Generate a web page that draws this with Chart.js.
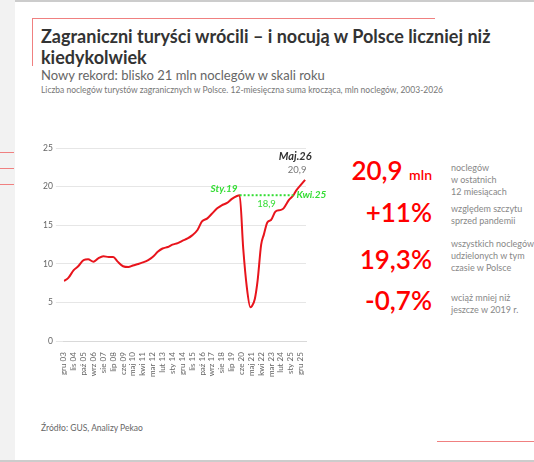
<!DOCTYPE html>
<html><head><meta charset="utf-8">
<script src="https://cdn.jsdelivr.net/npm/chart.js@4"></script>
<style>
body{margin:0;width:534px;height:462px;position:relative;background:#fff;font-family:Lato,sans-serif;overflow:hidden}
.t{position:absolute;white-space:nowrap;font-family:Lato,sans-serif}
.n{font-size:26px;color:#f00;font-weight:600;text-align:right;right:102px}
.d{left:451px;font-size:9px;line-height:12px;color:#888}
</style></head><body>
<div style="position:absolute;left:0;top:0;width:534px;height:2px;background:#ccc"></div>
<div style="position:absolute;left:0;top:0;width:15px;height:462px;background:#f2f2f2"></div>
<div style="position:absolute;left:0;top:460px;width:534px;height:2px;background:#ccc"></div>
<div style="position:absolute;left:32px;top:18px;width:403px;height:1px;background:#f08080"></div>
<div style="position:absolute;left:32px;top:18px;width:1px;height:48px;background:#f08080"></div>
<div style="position:absolute;left:437px;top:441px;width:97px;height:1px;background:#f08080"></div>
<div style="position:absolute;left:0;top:152px;width:14px;height:1px;background:#f08080"></div>
<div style="position:absolute;left:0;top:168px;width:14px;height:1px;background:#f08080"></div>
<div style="position:absolute;left:0;top:184px;width:14px;height:1px;background:#f08080"></div>
<div class="t" style="left:41px;top:26px;font-size:18px;line-height:21px;color:#333;font-weight:700">Zagraniczni turyści wrócili – i nocują w Polsce liczniej niż<br>kiedykolwiek</div>
<div class="t" style="left:41px;top:67px;font-size:13px;color:#666">Nowy rekord: blisko 21 mln noclegów w skali roku</div>
<div class="t" style="left:41px;top:85px;font-size:8.5px;color:#777">Liczba noclegów turystów zagranicznych w Polsce. 12-miesięczna suma krocząca, mln noclegów, 2003-2026</div>
<div class="t" style="left:41px;top:423px;font-size:8.5px;color:#666">Źródło: GUS, Analizy Pekao</div>

<div class="t n" style="top:154px">20,9 <span style="font-size:14px">mln</span></div>
<div class="t d" style="top:162px">noclegów<br>w ostatnich<br>12 miesiącach</div>
<div class="t n" style="top:196px">+11%</div>
<div class="t d" style="top:203px">względem szczytu<br>sprzed pandemii</div>
<div class="t n" style="top:243px">19,3%</div>
<div class="t d" style="top:238px">wszystkich noclegów<br>udzielonych w tym<br>czasie w Polsce</div>
<div class="t n" style="top:284px">-0,7%</div>
<div class="t d" style="top:292px">wciąż mniej niż<br>jeszcze w 2019 r.</div>

<div style="position:absolute;left:40px;top:140px;width:300px;height:240px"><canvas id="c"></canvas></div>
<script>
const tickLabels=["gru 03","lis 04","paź 05","wrz 06","sie 07","lip 08","cze 09","maj 10","kwi 11","mar 12","lut 13","sty 14","gru 14","lis 15","paź 16","wrz 17","sie 18","lip 19","cze 20","maj 21","kwi 22","mar 23","lut 24","sty 25","gru 25"];
const months=[0,5,11,16,22,27,33,38,44,50,55,60,66,72,77,83,88,94,99,105,110,116,121,127,132,138,143,149,154,160,165,171,176,182,187,193,196,200,204,208,210,213,216,220,223,227,231,236,242,245,251,256,259,264,269];
const values=[7.8,8.2,9.2,9.7,10.5,10.6,10.3,10.7,11.0,10.9,10.9,10.3,9.7,9.6,9.8,10.0,10.2,10.5,10.9,11.6,12.0,12.2,12.5,12.7,13.0,13.3,13.7,14.4,15.5,15.9,16.5,17.2,17.6,17.9,18.4,18.8,18.9,12.0,7.0,4.4,4.6,5.5,7.8,12.5,13.8,15.4,15.7,16.8,17.0,17.2,18.3,18.9,19.5,20.2,20.9];
const prePeak={m:196,v:18.9}, recover={m:256,v:18.9}, last={m:269,v:20.9};
const ann={id:'ann',afterDatasetsDraw(ch){const x=ch.scales.x,y=ch.scales.y,c=ch.ctx;c.save();
c.strokeStyle='#33dd33';c.lineWidth=2;c.setLineDash([2,2]);c.beginPath();
c.moveTo(x.getPixelForValue(prePeak.m),y.getPixelForValue(prePeak.v));c.lineTo(x.getPixelForValue(recover.m),y.getPixelForValue(recover.v));c.stroke();c.setLineDash([]);
c.fillStyle='#33dd33';c.font='italic bold 10px Lato';c.textAlign='right';c.textBaseline='bottom';
c.fillText('Sty.19',x.getPixelForValue(prePeak.m)-2,y.getPixelForValue(prePeak.v)-1);
c.textAlign='left';c.textBaseline='middle';c.fillText('Kwi.25',x.getPixelForValue(recover.m)+3,y.getPixelForValue(recover.v));
c.font='9.5px Lato';c.textAlign='center';c.textBaseline='top';c.fillText('18,9',(x.getPixelForValue(prePeak.m)+x.getPixelForValue(recover.m))/2,y.getPixelForValue(18.9)+4);
c.fillStyle='#333';c.font='italic bold 11px Lato';c.textBaseline='bottom';c.fillText('Maj.26',x.getPixelForValue(last.m)-10,y.getPixelForValue(last.v)-18);
c.fillStyle='#777';c.font='9.5px Lato';c.fillText('20,9',x.getPixelForValue(last.m)-8,y.getPixelForValue(last.v)-5);
c.restore();}};
new Chart(document.getElementById('c'),{type:'line',
data:{datasets:[{data:months.map((m,i)=>({x:m,y:values[i]})),borderColor:'#e8141c',borderWidth:2,pointRadius:0,cubicInterpolationMode:'monotone'}]},
options:{responsive:true,maintainAspectRatio:false,animation:false,layout:{padding:{right:34}},
plugins:{legend:{display:false},tooltip:{enabled:false}},
scales:{x:{type:'linear',min:0,max:270,grid:{display:false},border:{color:'#d9d9d9'},
afterBuildTicks(s){s.ticks=tickLabels.map((l,i)=>({value:i*11}));},
ticks:{autoSkip:false,minRotation:90,maxRotation:90,color:'#666',font:{size:8,family:'Lato'},callback:(v)=>tickLabels[v/11]}},
y:{min:0,max:25,ticks:{stepSize:5,color:'#666',font:{size:8.5,family:'Lato'}},grid:{color:'#e6e6e6'},border:{display:false}}}},
plugins:[ann]});
</script></body></html>
